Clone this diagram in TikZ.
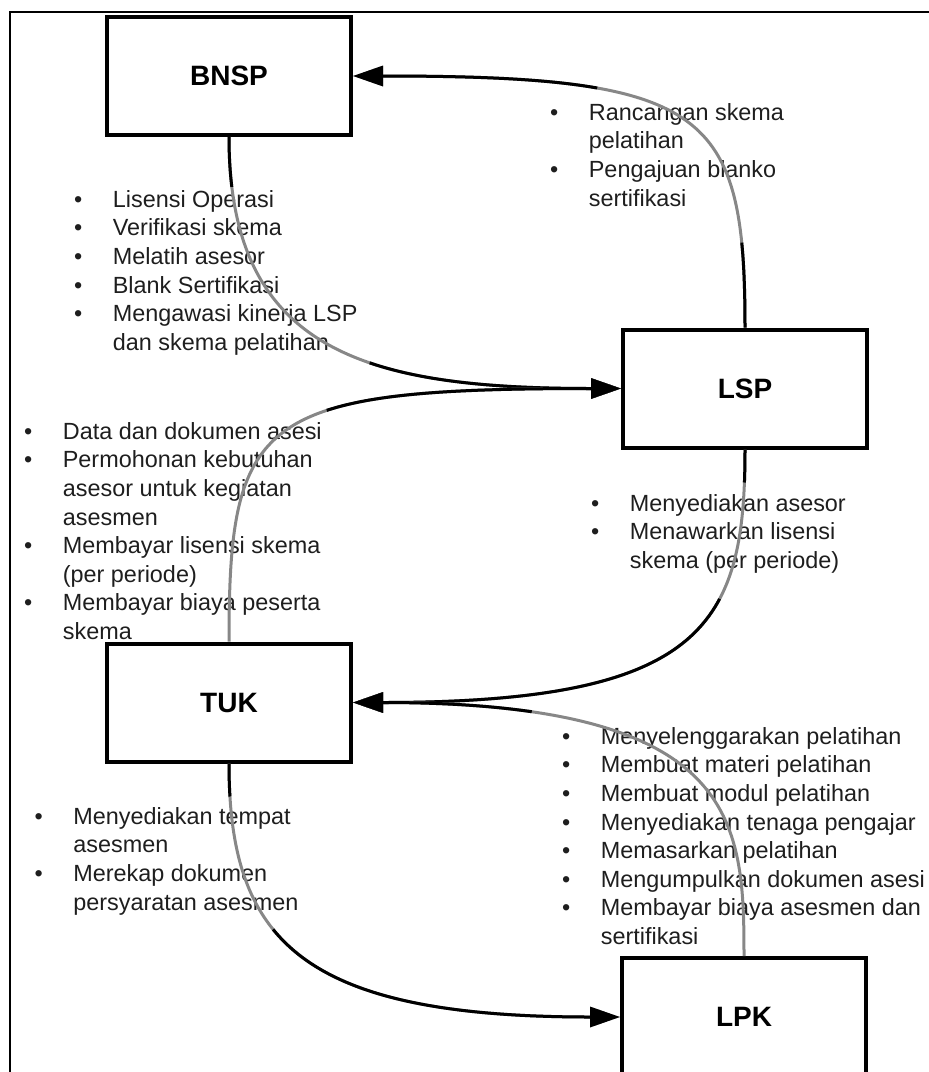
\documentclass[tikz,border=0pt]{standalone}
\usepackage{fontspec}
\setmainfont{Liberation Sans}
\usetikzlibrary{arrows.meta,calc}
\definecolor{linegray}{RGB}{135,135,135}
\definecolor{txt}{RGB}{30,30,30}
\tikzset{
  entity/.style={draw=black, line width=4pt, fill=white, minimum width=244pt, minimum height=118pt, inner sep=0pt, font=\fontsize{28}{30}\selectfont\bfseries},
  conngray/.style={draw=linegray, line width=3pt, -{Triangle[length=30pt,width=20pt]}},
  connblack/.style={draw=black, line width=3pt, -{Triangle[length=30pt,width=20pt]}},
  lbl/.style={anchor=north west, inner sep=0pt, text=txt, font=\fontsize{23.4}{28.6}\selectfont},
  frame/.style={draw=black, line width=1.5pt},
}
\begin{document}
\begin{tikzpicture}[x=1pt,y=-1pt]
\useasboundingbox (0,0) rectangle (929,1072);
\draw[frame] (10,1085) -- (10,12) -- (940,12);

% labels
\node[lbl] (la) at (74,187) {\begin{tabular}{@{}l@{\hspace{30.5pt}}l@{}}
• & Lisensi Operasi\\
• & Verifikasi skema\\
• & Melatih asesor\\
• & Blank Sertifikasi\\
• & Mengawasi kinerja LSP\\
  & dan skema pelatihan
\end{tabular}};
\node[lbl] (lb) at (550,100) {\begin{tabular}{@{}l@{\hspace{30.5pt}}l@{}}
• & Rancangan skema\\
  & pelatihan\\
• & Pengajuan blanko\\
  & sertifikasi
\end{tabular}};
\node[lbl] (lc) at (24,419) {\begin{tabular}{@{}l@{\hspace{30.5pt}}l@{}}
• & Data dan dokumen asesi\\
• & Permohonan kebutuhan\\
  & asesor untuk kegiatan\\
  & asesmen\\
• & Membayar lisensi skema\\
  & (per periode)\\
• & Membayar biaya peserta\\
  & skema
\end{tabular}};
\node[lbl] (ld) at (591,491) {\begin{tabular}{@{}l@{\hspace{30.5pt}}l@{}}
• & Menyediakan asesor\\
• & Menawarkan lisensi\\
  & skema (per periode)
\end{tabular}};
\node[lbl] (le) at (34.5,804) {\begin{tabular}{@{}l@{\hspace{30.5pt}}l@{}}
• & Menyediakan tempat\\
  & asesmen\\
• & Merekap dokumen\\
  & persyaratan asesmen
\end{tabular}};
\node[lbl] (lf) at (562,724) {\begin{tabular}{@{}l@{\hspace{30.5pt}}l@{}}
• & Menyelenggarakan pelatihan\\
• & Membuat materi pelatihan\\
• & Membuat modul pelatihan\\
• & Menyediakan tenaga pengajar\\
• & Memasarkan pelatihan\\
• & Mengumpulkan dokumen asesi\\
• & Membayar biaya asesmen dan\\
  & sertifikasi
\end{tabular}};

% entities
\node[entity] (bnsp) at (229,76) {BNSP};
\node[entity] (lsp) at (745,388.5) {LSP};
\node[entity] (tuk) at (229,702.5) {TUK};
\node[entity] (lpk) at (744,1017) {LPK};

% connectors: gray base, black overlay
\draw[conngray] (bnsp.south) .. controls ($(bnsp.south)+(0,214)$) and ($(lsp.west)+(-256,0)$) .. (lsp.west);
\draw[connblack, dash pattern=on 50pt off 238pt on 2000pt] (bnsp.south) .. controls ($(bnsp.south)+(0,214)$) and ($(lsp.west)+(-256,0)$) .. (lsp.west);

\draw[conngray] (lsp.north) .. controls ($(lsp.north)+(0,-217)$) and ($(bnsp.east)+(355,0)$) .. (bnsp.east);
\draw[connblack, dash pattern=on 85pt off 234pt on 2000pt] (lsp.north) .. controls ($(lsp.north)+(0,-217)$) and ($(bnsp.east)+(355,0)$) .. (bnsp.east);

\draw[conngray] (tuk.north) .. controls ($(tuk.north)+(0,-225)$) and ($(lsp.west)+(-363,0)$) .. (lsp.west);
\draw[connblack, dash pattern=on 0pt off 273pt on 2000pt] (tuk.north) .. controls ($(tuk.north)+(0,-225)$) and ($(lsp.west)+(-363,0)$) .. (lsp.west);

\draw[conngray] (lsp.south) .. controls ($(lsp.south)+(0,175)$) and ($(tuk.east)+(352,0)$) .. (tuk.east);
\draw[connblack, dash pattern=on 33pt off 120pt on 2000pt] (lsp.south) .. controls ($(lsp.south)+(0,175)$) and ($(tuk.east)+(352,0)$) .. (tuk.east);

\draw[conngray] (lpk.north) .. controls ($(lpk.north)+(0,-136)$) and ($(tuk.east)+(385,0)$) .. (tuk.east);
\draw[connblack, dash pattern=on 0pt off 370pt on 2000pt] (lpk.north) .. controls ($(lpk.north)+(0,-136)$) and ($(tuk.east)+(385,0)$) .. (tuk.east);

\draw[conngray] (tuk.south) .. controls ($(tuk.south)+(0,176)$) and ($(lpk.west)+(-320,0)$) .. (lpk.west);
\draw[connblack, dash pattern=on 33pt off 142pt on 2000pt] (tuk.south) .. controls ($(tuk.south)+(0,176)$) and ($(lpk.west)+(-320,0)$) .. (lpk.west);
\end{tikzpicture}
\end{document}
